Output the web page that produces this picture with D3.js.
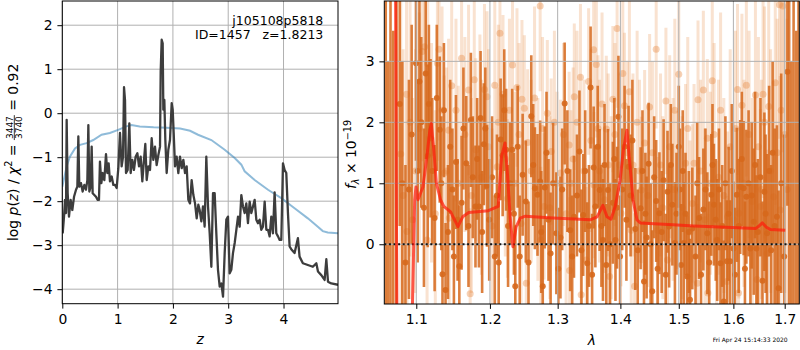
<!DOCTYPE html>
<html>
<head>
<meta charset="utf-8">
<script src="https://cdn.jsdelivr.net/npm/d3@7"></script>
<style>
body { margin: 0; background: #fff; }
svg text { font-family: "DejaVu Sans", sans-serif; }
</style>
</head>
<body>
<svg id="chart" width="800" height="350"></svg>
<script>
// ---- left panel: log p(z) and prior ----
const pzZ = [0.007,0.031,0.049,0.067,0.079,0.097,0.121,0.151,0.181,0.212,0.248,0.272,0.290,0.308,0.338,0.368,0.398,0.428,0.453,0.471,0.489,0.513,0.531,0.549,0.579,0.609,0.640,0.663,0.681,0.706,0.730,0.760,0.790,0.814,0.838,0.862,0.893,0.923,0.953,0.983,1.013,1.043,1.073,1.098,1.116,1.134,1.152,1.182,1.212,1.236,1.266,1.296,1.326,1.357,1.387,1.417,1.447,1.477,1.501,1.526,1.556,1.586,1.616,1.646,1.676,1.706,1.737,1.767,1.779,1.797,1.815,1.827,1.845,1.863,1.887,1.917,1.947,1.978,1.996,2.014,2.038,2.068,2.098,2.128,2.159,2.189,2.219,2.249,2.279,2.309,2.339,2.370,2.400,2.430,2.460,2.484,2.514,2.544,2.574,2.604,2.635,2.665,2.695,2.725,2.755,2.785,2.815,2.846,2.876,2.906,2.936,2.966,2.996,3.026,3.056,3.086,3.117,3.147,3.177,3.207,3.237,3.267,3.297,3.327,3.357,3.388,3.418,3.448,3.478,3.508,3.538,3.568,3.598,3.628,3.659,3.689,3.719,3.749,3.779,3.809,3.839,3.869,3.900,3.930,3.960,3.990,4.020,4.050,4.080,4.110,4.140,4.200,4.260,4.290,4.350,4.440,4.530,4.593,4.623,4.683,4.743,4.774,4.804,4.864,4.985];
const pzLog = [-2.73,-2.35,-1.97,-2.27,-0.15,-1.82,-2.35,-1.97,-2.20,-1.90,-1.74,-1.67,-0.53,-1.67,-1.59,-1.78,-1.63,-1.74,-1.52,-0.27,-1.78,-1.67,-0.76,-1.82,-1.86,-1.90,-1.97,-1.97,-1.10,-1.59,-1.36,-1.52,-0.93,-1.36,-1.14,-1.55,-1.44,-1.63,-1.63,-1.70,-1.25,-0.45,-1.21,-0.99,0.59,0.30,-1.36,-1.29,-0.23,-1.36,-1.06,-1.29,-0.99,-0.91,-1.21,-0.99,-1.55,-1.06,-0.70,-1.52,-1.21,-1.29,-0.57,-1.06,-0.76,-1.18,-0.95,-0.76,0.95,1.67,1.59,0.08,0.30,-0.61,-1.36,-0.83,-0.61,0.23,0.08,-0.45,-1.21,-0.99,-1.36,-0.99,-1.25,-1.06,-1.36,-1.21,-1.97,-2.05,-1.52,-1.86,-2.05,-2.39,-2.08,-2.20,-2.46,-2.12,-2.58,-0.99,-2.12,-2.73,-3.49,-1.82,-1.82,-2.73,-3.56,-3.94,-3.87,-4.17,-3.18,-2.42,-2.35,-3.64,-3.56,-3.18,-2.95,-2.65,-2.35,-2.58,-1.86,-2.12,-2.27,-2.05,-2.50,-2.01,-2.27,-2.12,-1.97,-2.42,-2.50,-2.42,-2.65,-2.58,-2.01,-2.65,-2.65,-2.80,-2.35,-2.73,-1.80,-2.73,-2.80,-2.88,-2.88,-1.14,-1.29,-1.36,-2.27,-3.03,-3.09,-3.18,-2.84,-3.26,-3.41,-3.45,-3.49,-3.41,-3.60,-3.68,-3.79,-3.32,-3.83,-3.87,-3.90];
const priorZ = [0.0,0.079,0.137,0.23,0.32,0.44,0.56,0.71,0.86,1.01,1.16,1.25,1.40,1.65,1.89,2.13,2.31,2.454,2.695,2.936,3.117,3.237,3.297,3.478,3.719,3.96,4.2,4.44,4.62,4.71,4.80,4.985];
const priorLog = [-1.67,-1.21,-0.99,-0.80,-0.72,-0.68,-0.61,-0.49,-0.45,-0.38,-0.30,-0.27,-0.30,-0.32,-0.33,-0.35,-0.40,-0.49,-0.61,-0.83,-1.02,-1.17,-1.32,-1.52,-1.74,-1.93,-2.16,-2.39,-2.58,-2.68,-2.71,-2.73];
const zTicks = [0, 1, 2, 3, 4];
const logTicks = [-4, -3, -2, -1, 0, 1, 2];

// ---- right panel: spectrum (two exposures, dark = main, light = other) ----
const darkLam = [1.061,1.064,1.067,1.0705,1.0745,1.0787,1.0996,1.1041,1.1123,1.115,1.1187,1.1241,1.1309,1.1346,1.1387,1.1528,1.1574,1.1605,1.1669,1.1733,1.1797,1.1845,1.1868,1.1914,1.1959,1.2069,1.2153,1.2182,1.2232,1.2320,1.2365,1.2473,1.2601,1.2655,1.2694,1.2734,1.2773,1.2803,1.2892,1.2980,1.3043,1.3108,1.3194,1.3253,1.3339,1.3398,1.3463,1.3516,1.3565,1.3592,1.3661,1.3715,1.3769,1.3796,1.3876,1.3919,1.3968,1.4136,1.4249,1.4339,1.4396,1.4441,1.4475,1.4537,1.4605,1.4661,1.4734,1.4802,1.4830,1.4887,1.4932,1.5000,1.5042,1.5091,1.5152,1.5200,1.5242,1.5364,1.5442,1.5515,1.5588,1.5636,1.5697,1.5758,1.5818,1.5879,1.5939,1.6000,1.6065,1.6130,1.6195,1.6247,1.6325,1.6389,1.6441,1.6597,1.6649,1.6844,1.6877,1.7054,1.709,1.7135,1.718,1.7235,1.728];
const darkFlux = [5.0,-3.0,5.5,-2.5,5.0,2.30,2.97,2.67,2.80,1.45,1.74,0.43,1.88,-0.49,-0.75,1.35,-0.36,0.68,1.33,2.04,0.62,0.62,2.07,1.64,0.96,-0.20,1.72,1.46,1.55,1.55,-0.69,1.14,2.10,0.92,0.81,1.03,-0.69,0.93,-0.15,0.18,0.11,2.31,0.23,0.45,1.52,0.48,-0.31,2.57,1.26,0.62,0.89,0.07,-0.34,0.89,0.68,0.07,2.09,1.27,0.25,0.59,-0.61,0.11,1.32,-0.77,0.71,0.51,1.05,0.86,0.29,0.65,0.02,1.60,-0.34,0.02,-0.53,-0.91,0.26,0.43,0.57,0.18,0.81,0.65,0.07,-0.31,-0.94,-0.28,-0.28,-0.07,0.81,0.94,0.92,0.78,-0.07,0.37,-0.07,0.86,0.18,0.45,-0.72,2.83,5.0,-3.0,5.5,-2.5,5.0];
const darkErr = [7,6,7,6,6.5,2.0,1.6,1.5,1.4,1.5,1.3,1.2,1.2,1.1,1.1,1.1,1.0,1.1,1.1,1.1,1.0,1.0,1.1,1.0,1.0,1.0,1.0,1.0,1.0,1.0,1.0,1.0,1.0,1.0,1.0,1.0,1.0,1.0,1.0,1.0,1.0,1.0,1.0,1.0,1.0,1.0,1.0,1.0,1.0,1.0,1.0,1.0,1.0,1.0,1.0,1.0,1.0,1.0,1.0,1.0,1.0,1.0,1.0,1.0,1.0,1.0,1.0,1.0,1.0,1.0,1.0,1.0,1.0,1.0,1.0,1.0,1.0,1.0,1.0,1.0,1.0,1.0,1.0,1.0,1.0,1.0,1.0,1.1,1.1,1.1,1.1,1.1,1.1,1.2,1.2,1.3,1.3,1.5,1.6,2.2,7,6,7,6,7];
const dark2Lam = [1.0820,1.0860,1.0905,1.0940,1.1018,1.1065,1.1100,1.1165,1.1210,1.1270,1.1330,1.1365,1.1420,1.1450,1.1480,1.1500,1.1550,1.1630,1.1700,1.1760,1.1820,1.1890,1.1935,1.1990,1.2030,1.2100,1.2125,1.2205,1.2260,1.2290,1.2345,1.2400,1.2430,1.2520,1.2560,1.2630,1.2750,1.2830,1.2860,1.2930,1.3010,1.3070,1.3150,1.3225,1.3300,1.3370,1.3430,1.3490,1.3540,1.3630,1.3690,1.3740,1.3830,1.3900,1.3945,1.3995,1.4030,1.4070,1.4100,1.4170,1.4200,1.4290,1.4370,1.4420,1.4510,1.4570,1.4630,1.4700,1.4770,1.4860,1.4960,1.5020,1.5070,1.5120,1.5180,1.5300,1.5330,1.5400,1.5480,1.5550,1.5610,1.5670,1.5730,1.5790,1.5850,1.5910,1.5970,1.6030,1.6100,1.6160,1.6220,1.6290,1.6350,1.6415,1.6470,1.6520,1.6560,1.6620,1.6690,1.6730,1.6760,1.6800,1.6930,1.6990];
const dark2Flux = [1.0,-0.3,0.9,1.8,1.2,2.0,0.6,2.3,1.2,2.4,1.0,2.2,0.2,1.6,0.9,-0.2,0.4,1.9,0.3,1.1,1.4,0.2,1.9,0.4,1.1,0.8,-0.3,2.2,0.3,1.0,0.5,1.6,-0.2,0.7,-0.3,1.3,0.2,1.5,0.4,1.0,-0.4,0.9,1.2,-0.2,0.8,-0.1,1.2,0.3,-0.5,1.6,0.3,1.3,0.0,1.4,0.6,-0.2,0.9,1.6,0.4,0.8,1.7,-0.1,1.2,0.5,0.0,1.1,-0.4,0.2,-0.5,1.3,0.5,0.9,1.2,0.5,0.2,-0.2,1.0,-0.5,0.9,-0.3,1.3,0.4,0.9,0.3,1.0,0.5,1.2,-0.5,0.3,1.4,-0.4,1.0,0.8,1.3,0.2,1.1,-0.6,0.5,1.2,-0.1,1.5,0.3,1.0,-0.2];
const dark2Err = [2.0,1.6,1.8,1.8,1.5,1.4,1.3,1.3,1.2,1.2,1.1,1.1,1.1,1.1,1.0,1.0,1.0,1.0,1.0,1.0,1.0,1.0,1.0,1.0,1.0,1.0,1.0,1.0,1.0,1.0,1.0,1.0,1.0,1.0,1.0,1.0,1.0,1.0,1.0,1.0,1.0,1.0,1.0,1.0,1.0,1.0,1.0,1.0,1.0,1.0,1.0,1.0,1.0,1.0,1.0,1.0,1.0,1.0,1.0,1.0,1.0,1.0,1.0,1.0,1.0,1.0,1.0,1.0,1.0,1.0,1.0,1.0,1.0,1.0,1.0,1.0,1.0,1.0,1.0,1.0,1.0,1.0,1.0,1.0,1.1,1.1,1.1,1.1,1.1,1.1,1.1,1.2,1.2,1.2,1.2,1.3,1.3,1.3,1.4,1.4,1.5,1.6,1.8,2.0];

const lightLam = [1.0800,1.0874,1.0880,1.0952,1.1077,1.1109,1.1141,1.1150,1.1278,1.1300,1.1369,1.1428,1.1437,1.1528,1.1605,1.1701,1.1723,1.1801,1.1859,1.1923,1.1959,1.2069,1.2104,1.2143,1.2187,1.2251,1.2325,1.2390,1.2449,1.2463,1.2498,1.2527,1.2547,1.2734,1.2744,1.2793,1.2842,1.2901,1.3043,1.3178,1.3185,1.3205,1.3258,1.3355,1.3366,1.3446,1.3484,1.3565,1.3570,1.3608,1.3635,1.3742,1.3769,1.3823,1.3876,1.3946,1.4011,1.4068,1.4181,1.4237,1.4351,1.4407,1.4492,1.4605,1.4633,1.4774,1.4802,1.4972,1.5000,1.5121,1.5242,1.5273,1.5333,1.5345,1.5442,1.5515,1.5525,1.5606,1.5685,1.5879,1.5890,1.6078,1.6097,1.6105,1.6162,1.6247,1.6422,1.6454,1.6519,1.6571,1.6649,1.6682,1.6779,1.6812,1.6896,1.6909,1.6961];
const lightFlux = [1.48,2.46,0.21,0.40,3.16,3.24,0.07,2.96,2.97,3.20,1.17,1.87,0.43,2.20,3.05,2.53,-0.81,1.55,2.04,2.54,2.42,2.61,1.27,3.46,2.46,0.75,2.94,2.57,0.34,2.38,2.23,-0.64,1.67,3.91,0.07,0.62,2.15,1.52,1.17,1.63,-0.43,1.00,2.42,2.74,-0.83,-0.26,2.67,3.19,0.97,2.95,1.90,0.73,1.89,-0.53,2.38,3.54,0.51,2.27,0.23,-0.69,0.89,1.66,2.25,3.20,0.23,2.35,-0.26,0.89,2.79,1.33,0.67,1.33,-0.64,2.37,2.53,1.74,-0.80,2.68,0.07,-0.61,0.45,2.54,-0.80,0.51,2.28,2.61,2.45,-0.58,0.62,2.46,-0.15,2.26,0.78,2.65,3.93,0.56,3.91];
const lightErr = [2.6,2.4,2.2,2.0,1.8,1.7,1.7,1.6,1.6,1.5,1.6,1.5,1.5,1.5,1.5,1.4,1.4,1.5,1.4,1.4,1.4,1.4,1.3,1.4,1.3,1.3,1.3,1.3,1.3,1.3,1.2,1.3,1.2,1.4,1.2,1.2,1.2,1.2,1.2,1.2,1.2,1.2,1.2,1.2,1.2,1.2,1.2,1.2,1.2,1.2,1.2,1.2,1.2,1.2,1.2,1.3,1.2,1.2,1.2,1.2,1.2,1.2,1.2,1.3,1.2,1.2,1.2,1.3,1.3,1.3,1.3,1.3,1.3,1.3,1.3,1.3,1.3,1.3,1.3,1.4,1.4,1.4,1.4,1.4,1.5,1.5,1.6,1.6,1.6,1.7,1.7,1.8,1.9,2.0,2.2,2.2,2.4];
const light2Lam = [1.0830,1.0920,1.0990,1.1040,1.1200,1.1250,1.1340,1.1400,1.1470,1.1560,1.1650,1.1740,1.1780,1.1880,1.1980,1.2030,1.2120,1.2220,1.2280,1.2360,1.2420,1.2600,1.2650,1.2700,1.2770,1.2880,1.2950,1.2990,1.3090,1.3130,1.3240,1.3300,1.3410,1.3520,1.3660,1.3700,1.3800,1.3850,1.3910,1.3990,1.4040,1.4120,1.4150,1.4210,1.4280,1.4320,1.4460,1.4540,1.4680,1.4720,1.4840,1.4900,1.4930,1.5060,1.5160,1.5200,1.5390,1.5470,1.5570,1.5640,1.5720,1.5760,1.5820,1.5940,1.6000,1.6040,1.6200,1.6300,1.6360,1.6480,1.6540,1.6600,1.6720,1.6850,1.6930,1.7000,1.7050];
const light2Flux = [0.8,2.0,1.2,1.9,1.5,0.5,2.2,1.2,2.6,1.0,1.8,0.8,2.7,1.1,1.6,0.3,2.0,1.4,2.2,1.0,1.8,1.2,2.4,0.9,1.9,0.6,2.0,1.0,1.8,0.5,1.4,2.0,1.2,1.7,1.2,2.3,1.3,0.6,1.8,1.3,2.8,1.5,2.5,1.3,2.0,1.2,0.8,1.5,1.3,0.6,1.6,0.9,2.2,0.6,1.9,0.2,1.2,0.4,1.0,1.8,1.1,2.2,0.8,1.6,0.4,1.9,1.0,1.8,0.7,1.6,0.9,2.0,1.2,1.5,2.2,1.8,0.9];
const light2Err = [2.4,2.2,2.0,1.9,1.8,1.7,1.7,1.7,1.6,1.6,1.6,1.6,1.6,1.6,1.6,1.6,1.6,1.6,1.5,1.5,1.5,1.5,1.5,1.5,1.5,1.5,1.5,1.5,1.5,1.5,1.5,1.5,1.5,1.5,1.5,1.5,1.5,1.5,1.5,1.5,1.5,1.5,1.5,1.5,1.5,1.5,1.5,1.5,1.5,1.5,1.5,1.5,1.5,1.5,1.5,1.5,1.5,1.5,1.5,1.5,1.6,1.6,1.6,1.6,1.6,1.6,1.7,1.7,1.7,1.8,1.8,1.9,2.0,2.2,2.4,2.6,2.8];

const modelLam = [1.0720,1.0775,1.0900,1.0945,1.0979,1.0996,1.1022,1.1087,1.1133,1.1178,1.1197,1.1230,1.1265,1.1319,1.1364,1.1455,1.1555,1.1620,1.1704,1.1977,1.2118,1.2167,1.2216,1.2251,1.2290,1.2330,1.2379,1.2438,1.2512,1.2932,1.3510,1.3620,1.3714,1.3780,1.3845,1.3915,1.3995,1.4050,1.4108,1.4152,1.4210,1.4278,1.4334,1.4900,1.5270,1.5855,1.6428,1.6494,1.6558,1.6636,1.6720,1.7012];
const modelFlux = [8.0,-8.0,-3.0,-1.3,0.73,0.94,0.73,0.94,1.38,1.87,1.98,1.55,1.00,0.73,0.62,0.53,0.29,0.45,0.52,0.55,0.62,1.44,1.66,1.16,0.45,-0.04,0.29,0.43,0.46,0.43,0.40,0.45,0.64,0.45,0.41,0.62,1.05,1.55,1.87,1.38,0.73,0.40,0.35,0.32,0.30,0.28,0.26,0.30,0.35,0.28,0.24,0.23];
const lamTicks = [1.1, 1.2, 1.3, 1.4, 1.5, 1.6, 1.7];
const fluxTicks = [0, 1, 2, 3];

const svg = d3.select("#chart");
const tickFont = "13.9px";
const gridColor = "#b0b0b0";

// ---------- left panel ----------
const L = { x0: 62.3, x1: 338, y0: 1, y1: 303.7 };
const xZ = d3.scaleLinear().domain([0, 4.985]).range([L.x0, L.x1]);
const yP = d3.scaleLinear().domain([-4.33, 2.55]).range([L.y1, L.y0]);

svg.append("clipPath").attr("id", "clipL")
  .append("rect").attr("x", L.x0).attr("y", L.y0)
  .attr("width", L.x1 - L.x0).attr("height", L.y1 - L.y0);

const gl = svg.append("g");
gl.selectAll(".gx").data(zTicks).join("line")
  .attr("x1", d => xZ(d)).attr("x2", d => xZ(d))
  .attr("y1", L.y0).attr("y2", L.y1)
  .attr("stroke", gridColor).attr("stroke-width", 1);
gl.selectAll(".gy").data(logTicks).join("line")
  .attr("y1", d => yP(d)).attr("y2", d => yP(d))
  .attr("x1", L.x0).attr("x2", L.x1)
  .attr("stroke", gridColor).attr("stroke-width", 1);

const curves = gl.append("g").attr("clip-path", "url(#clipL)");
curves.append("path")
  .attr("d", d3.line().x((d, i) => xZ(priorZ[i])).y(d => yP(d))(priorLog))
  .attr("fill", "none").attr("stroke", "#1f77b4")
  .attr("stroke-opacity", 0.5).attr("stroke-width", 2);
curves.append("path")
  .attr("d", d3.line().x((d, i) => xZ(pzZ[i])).y(d => yP(d))(pzLog))
  .attr("fill", "none").attr("stroke", "#3d3d3d")
  .attr("stroke-width", 2.3).attr("stroke-linejoin", "round");

gl.append("g").attr("transform", `translate(0,${L.y1})`)
  .call(d3.axisBottom(xZ).tickValues(zTicks).tickFormat(d3.format("d"))
    .tickSize(4.9).tickPadding(5.5))
  .call(g => g.select(".domain").remove())
  .call(g => g.selectAll("text").attr("font-size", tickFont).attr("fill", "#000"));
gl.append("g").attr("transform", `translate(${L.x0},0)`)
  .call(d3.axisLeft(yP).tickValues(logTicks).tickFormat(d3.format("d"))
    .tickSize(4.9).tickPadding(4.9))
  .call(g => g.select(".domain").remove())
  .call(g => g.selectAll("text").attr("font-size", tickFont).attr("fill", "#000"));

gl.append("rect").attr("x", L.x0).attr("y", L.y0)
  .attr("width", L.x1 - L.x0).attr("height", L.y1 - L.y0)
  .attr("fill", "none").attr("stroke", "#000").attr("stroke-width", 1);

gl.append("text").attr("x", 323.3).attr("y", 25).attr("text-anchor", "end")
  .attr("font-size", "12.5px").text("j105108p5818");
gl.append("text").attr("x", 323.3).attr("y", 39).attr("text-anchor", "end")
  .attr("font-size", "12.5px").style("white-space", "pre").text("ID=1457   z=1.8213");

gl.append("text").attr("x", (L.x0 + L.x1) / 2).attr("y", 344)
  .attr("text-anchor", "middle").attr("font-size", tickFont)
  .attr("font-style", "italic").text("z");

// rotated y label with a small fraction
const yl = gl.append("g").attr("transform", "translate(17.5,152.4) rotate(-90)");
const part1 = yl.append("text").attr("font-size", tickFont).style("white-space", "pre");
part1.append("tspan").text("log ");
part1.append("tspan").attr("font-style", "italic").text("p");
part1.append("tspan").text("(");
part1.append("tspan").attr("font-style", "italic").text("z");
part1.append("tspan").text(") / ");
part1.append("tspan").attr("font-style", "italic").text("χ");
part1.append("tspan").attr("font-size", "9.7px").attr("dy", -5.5).text("2");
part1.append("tspan").attr("dy", 5.5).text(" = ");
const w1 = part1.node().getComputedTextLength();
const num = yl.append("text").attr("font-size", "9px").attr("y", -4.4).text("3447");
const den = yl.append("text").attr("font-size", "9px").attr("y", 4.0).text("3740");
const wf = Math.max(num.node().getComputedTextLength(), den.node().getComputedTextLength()) + 2;
const part3 = yl.append("text").attr("font-size", tickFont).style("white-space", "pre").text(" = 0.92");
const w3 = part3.node().getComputedTextLength();
const start = -(w1 + wf + w3) / 2;
part1.attr("x", start);
num.attr("x", start + w1 + 1);
den.attr("x", start + w1 + 1);
yl.append("line").attr("x1", start + w1).attr("x2", start + w1 + wf)
  .attr("y1", -3.2).attr("y2", -3.2).attr("stroke", "#000").attr("stroke-width", 0.8);
part3.attr("x", start + w1 + wf);

// ---------- right panel ----------
const R = { x0: 384.3, x1: 799.3, y0: 1, y1: 304 };
const xL = d3.scaleLog().domain([1.0592, 1.7296]).range([R.x0, R.x1]);
const yF = d3.scaleLinear().domain([-0.98, 3.99]).range([R.y1, R.y0]);

svg.append("clipPath").attr("id", "clipR")
  .append("rect").attr("x", R.x0).attr("y", R.y0)
  .attr("width", R.x1 - R.x0).attr("height", R.y1 - R.y0);

const gr = svg.append("g");
const plot = gr.append("g").attr("clip-path", "url(#clipR)");

const light = "#e98d45";
const dark = "#d6681c";

const errorbars = (lam, flux, err, color, barOpacity, barWidth, r, dotOpacity) => {
  const g = plot.append("g");
  g.selectAll("line").data(lam).join("line")
    .attr("x1", d => xL(d)).attr("x2", d => xL(d))
    .attr("y1", (d, i) => yF(flux[i] - err[i]))
    .attr("y2", (d, i) => yF(flux[i] + err[i]))
    .attr("stroke", color).attr("stroke-opacity", barOpacity).attr("stroke-width", barWidth);
  g.selectAll("circle").data(lam).join("circle")
    .attr("cx", d => xL(d)).attr("cy", (d, i) => yF(flux[i]))
    .attr("r", r).attr("fill", color).attr("fill-opacity", dotOpacity);
};

errorbars(lightLam, lightFlux, lightErr, light, 0.25, 3, 3.5, 0.4);
errorbars(light2Lam, light2Flux, light2Err, light, 0.25, 3, 3.5, 0.4);
errorbars(darkLam, darkFlux, darkErr, dark, 0.85, 2.6, 3, 0.9);
errorbars(dark2Lam, dark2Flux, dark2Err, dark, 0.85, 2.6, 3, 0.9);

// grid above the data points
plot.selectAll(".gx").data(lamTicks).join("line")
  .attr("x1", d => xL(d)).attr("x2", d => xL(d))
  .attr("y1", R.y0).attr("y2", R.y1)
  .attr("stroke", gridColor).attr("stroke-width", 1);
plot.selectAll(".gy").data(fluxTicks).join("line")
  .attr("y1", d => yF(d)).attr("y2", d => yF(d))
  .attr("x1", R.x0).attr("x2", R.x1)
  .attr("stroke", gridColor).attr("stroke-width", 1);

plot.append("line").attr("x1", R.x0).attr("x2", R.x1)
  .attr("y1", yF(0)).attr("y2", yF(0))
  .attr("stroke", "#111").attr("stroke-width", 2).attr("stroke-dasharray", "2,2.6");

plot.append("path")
  .attr("d", d3.line().x((d, i) => xL(modelLam[i])).y(d => yF(d))(modelFlux))
  .attr("fill", "none").attr("stroke", "#ff1a0a").attr("stroke-opacity", 0.7)
  .attr("stroke-width", 3).attr("stroke-linejoin", "round");

gr.append("g").attr("transform", `translate(0,${R.y1})`)
  .call(d3.axisBottom(xL).tickValues(lamTicks).tickFormat(d3.format(".1f"))
    .tickSize(4.9).tickPadding(5.5))
  .call(g => g.select(".domain").remove())
  .call(g => g.selectAll("text").attr("font-size", tickFont).attr("fill", "#000"));
gr.append("g").attr("transform", `translate(${R.x0},0)`)
  .call(d3.axisLeft(yF).tickValues(fluxTicks).tickFormat(d3.format("d"))
    .tickSize(4.9).tickPadding(4.9))
  .call(g => g.select(".domain").remove())
  .call(g => g.selectAll("text").attr("font-size", tickFont).attr("fill", "#000"));

gr.append("rect").attr("x", R.x0).attr("y", R.y0)
  .attr("width", R.x1 - R.x0).attr("height", R.y1 - R.y0)
  .attr("fill", "none").attr("stroke", "#000").attr("stroke-width", 1);

gr.append("text").attr("x", (R.x0 + R.x1) / 2).attr("y", 345)
  .attr("text-anchor", "middle").attr("font-size", tickFont)
  .attr("font-style", "italic").text("λ");

const yr = gr.append("text").attr("transform", "translate(356,154.5) rotate(-90)")
  .attr("text-anchor", "middle").attr("font-size", tickFont).style("white-space", "pre");
yr.append("tspan").attr("font-style", "italic").text("f");
yr.append("tspan").attr("font-style", "italic").attr("font-size", "9.7px").attr("dy", 3).text("λ");
yr.append("tspan").attr("dy", -3).text(" × 10");
yr.append("tspan").attr("font-size", "9.7px").attr("dy", -5.5).text("−19");

gr.append("text").attr("x", 787.7).attr("y", 342).attr("text-anchor", "end")
  .attr("font-size", "6px").text("Fri Apr 24 15:14:33 2020");
</script>
</body>
</html>
